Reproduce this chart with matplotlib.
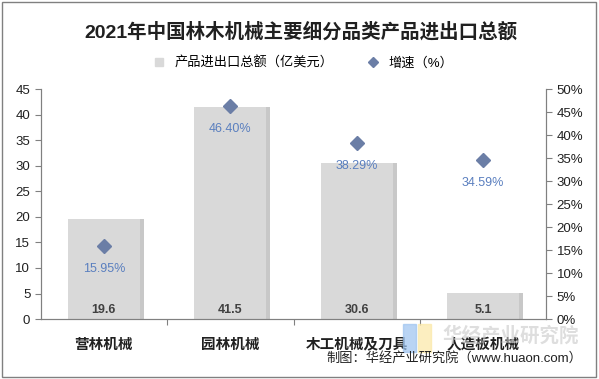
import matplotlib.pyplot as plt
from matplotlib.patches import Rectangle
from matplotlib.lines import Line2D

plt.rcParams['font.family'] = ['Liberation Sans', 'Noto Sans CJK SC', 'DejaVu Sans']

# data
categories = ['营林机械', '园林机械', '木工机械及刀具', '人造板机械']
totals = [19.6, 41.5, 30.6, 5.1]          # 亿美元
growth = [15.95, 46.40, 38.29, 34.59]     # %

fig = plt.figure(figsize=(5.99, 3.79), dpi=100)
ax = fig.add_axes([0.068, 0.158, 0.844, 0.607])
ax2 = ax.twinx()

x = list(range(len(categories)))
w = 0.57
# shadow behind the bars
ax.bar([i + 0.03 for i in x], totals, width=w, color='#c8c8c8', zorder=1)
ax.bar(x, totals, width=w, color='#d9d9d9', zorder=2)
for i, v in zip(x, totals):
    ax.text(i, 1.8, f'{v:.1f}', ha='center', va='center', fontsize=9,
            fontweight='bold', color='#404040', zorder=3)

ax.set_xlim(-0.5, 3.5)
ax.set_ylim(0, 45)
ax.set_yticks(range(0, 46, 5))
ax.set_xticks([0.5, 1.5, 2.5])
ax.set_xticklabels([])
ax.tick_params(axis='x', length=4, color='#808080')
ax.tick_params(axis='y', length=4, color='#808080', labelsize=9.5, labelcolor='#202020')
for i, c in zip(x, categories):
    ax.text(i, -5.0, c, ha='center', va='center', fontsize=10.5, fontweight='bold',
            color='#202020')

ax2.plot(x, growth, linestyle='none', marker='D', markersize=7,
         color='#6b7ea6', zorder=5)
for i, g in zip(x, growth):
    ax2.text(i, g - 5, f'{g:.2f}%', ha='center', va='center', fontsize=9,
             color='#5a7fbf')
ax2.set_ylim(0, 50)
ax2.set_yticks(range(0, 51, 5))
ax2.set_yticklabels([f'{t}%' for t in range(0, 51, 5)])
ax2.tick_params(axis='y', length=4, color='#808080', labelsize=9.5, labelcolor='#202020')

for a in (ax, ax2):
    a.spines['top'].set_visible(False)
    a.spines['left'].set_color('#808080')
    a.spines['right'].set_color('#808080')
    a.spines['bottom'].set_color('#808080')

fig.text(0.503, 0.915, '2021年中国林木机械主要细分品类产品进出口总额', ha='center',
         va='center', fontsize=14, fontweight='bold', color='#202020')

handles = [Line2D([], [], marker='s', linestyle='none', color='#d9d9d9', markersize=6),
           Line2D([], [], marker='D', linestyle='none', color='#6b7ea6', markersize=5)]
fig.legend(handles, ['产品进出口总额（亿美元）', '增速（%）'], loc='center',
           bbox_to_anchor=(0.5, 0.833), ncol=2, frameon=False, fontsize=9.5,
           handletextpad=0.2, columnspacing=2.0)

# watermark (logo + name)
fig.patches.append(Rectangle((0.672, 0.07), 0.022, 0.075, transform=fig.transFigure,
                             color='#9cc3f0', alpha=0.7, zorder=0))
fig.patches.append(Rectangle((0.697, 0.07), 0.022, 0.075, transform=fig.transFigure,
                             color='#fbe8a6', alpha=0.7, zorder=0))
fig.text(0.853, 0.113, '华经产业研究院', ha='center', va='center', fontsize=14,
         fontweight='bold', color='#c8c8c8', alpha=0.6, zorder=0)
fig.text(0.972, 0.055, '制图：华经产业研究院（www.huaon.com）', ha='right',
         va='center', fontsize=9.5, color='#202020')

fig.patches.append(Rectangle((0.003, 0.004), 0.992, 0.99, transform=fig.transFigure,
                             fill=False, edgecolor='#808080', linewidth=1))

fig.savefig('out.png', dpi=100)
